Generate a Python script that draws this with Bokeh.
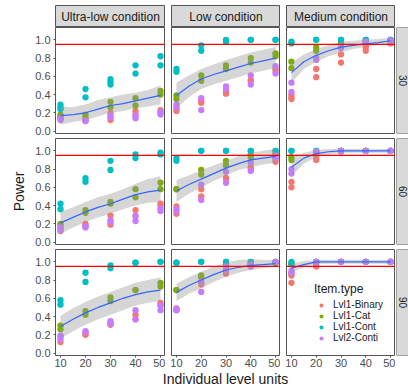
import math
from bokeh.plotting import figure
from bokeh.models import (Range1d, FixedTicker, PrintfTickFormatter, Label, Span,
                          Legend, LegendItem, Spacer)
from bokeh.layouts import row, column
from bokeh.embed import file_html
from bokeh.resources import INLINE

FONT = "Liberation Sans"
BORDER = "#555555"
STRIP_FILL = "#D9D9D9"

# ---------------- data ----------------
item_types = ["Lvl1-Binary", "Lvl1-Cat", "Lvl1-Cont", "Lvl2-Conti"]
type_colors = ["#F8766D", "#7CAE00", "#00BFC4", "#C77CFF"]
x_units = [10, 20, 30, 40, 50]
x_ticks = [10, 20, 30, 40, 50]
y_ticks = [0.0, 0.2, 0.4, 0.6, 0.8, 1.0]
conditions = ["Ultra-low condition", "Low condition", "Medium condition"]
group_sizes = ["30", "60", "90"]
target_power = 0.95
smooth_x = [10, 15, 20, 25, 30, 35, 40, 45, 50]

# points: per item type, one list of power values for each x in x_units
UL30 = {"Lvl1-Binary": [[0.15, 0.13], [0.12, 0.11], [0.20, 0.12], [0.22, 0.18], [0.23, 0.20]],
        "Lvl1-Cat":    [[0.18, 0.16], [0.18, 0.15], [0.32, 0.26], [0.36, 0.28], [0.44, 0.40]],
        "Lvl1-Cont":   [[0.29, 0.26, 0.24], [0.46, 0.37], [0.57, 0.54, 0.51], [0.72, 0.63], [0.82, 0.72]],
        "Lvl2-Conti":  [[0.14, 0.12], [0.12, 0.11], [0.17, 0.15], [0.17, 0.14], [0.21, 0.18]]}
L30 = {"Lvl1-Binary": [[0.22, 0.24], [0.33, 0.31], [0.43, 0.41], [0.56, 0.55], [0.68, 0.66]],
       "Lvl1-Cat":    [[0.39, 0.35], [0.61, 0.55], [0.72, 0.68], [0.80, 0.75], [0.85, 0.82]],
       "Lvl1-Cont":   [[0.68, 0.65], [0.94, 0.88], [1.00, 0.98], [1.00, 1.00], [1.00, 1.00]],
       "Lvl2-Conti":  [[0.29, 0.26], [0.36, 0.23], [0.49, 0.46], [0.61, 0.51], [0.71, 0.63]]}
M30 = {"Lvl1-Binary": [[0.40, 0.37, 0.35], [0.68, 0.59], [0.84, 0.75], [0.94, 0.92, 0.88], [0.97, 0.96]],
       "Lvl1-Cat":    [[0.76, 0.69], [0.92, 0.88], [0.97, 0.96], [0.99, 0.98], [1.00, 0.99]],
       "Lvl1-Cont":   [[0.98, 0.96], [1.00, 1.00], [1.00, 1.00], [1.00, 1.00], [1.00, 1.00]],
       "Lvl2-Conti":  [[0.53, 0.43], [0.80, 0.78], [0.93, 0.91], [0.98, 0.97], [0.99, 0.99]]}
UL60 = {"Lvl1-Binary": [[0.12, 0.15], [0.20, 0.18], [0.29, 0.19], [0.35, 0.28], [0.42, 0.40]],
        "Lvl1-Cat":    [[0.20, 0.19], [0.35, 0.32], [0.44, 0.42], [0.58, 0.49], [0.65, 0.58]],
        "Lvl1-Cont":   [[0.42, 0.36], [0.70, 0.66], [0.89, 0.79], [0.96, 0.92], [0.98, 0.96]],
        "Lvl2-Conti":  [[0.16, 0.13], [0.17, 0.16], [0.24, 0.22], [0.29, 0.23], [0.37, 0.34]]}
L60 = {"Lvl1-Binary": [[0.39, 0.31], [0.58, 0.50], [0.70, 0.70], [0.82, 0.80], [0.91, 0.88]],
       "Lvl1-Cat":    [[0.58, 0.58], [0.79, 0.74], [0.89, 0.84], [0.96, 0.93], [0.97, 0.96]],
       "Lvl1-Cont":   [[0.92, 0.89], [1.00, 1.00], [1.00, 1.00], [1.00, 1.00], [1.00, 1.00]],
       "Lvl2-Conti":  [[0.36, 0.34], [0.63, 0.46], [0.77, 0.65], [0.87, 0.78], [0.95, 0.92]]}
M60 = {"Lvl1-Binary": [[0.66, 0.60], [0.93, 0.90], [1.00, 0.99], [1.00, 1.00], [1.00, 1.00]],
       "Lvl1-Cat":    [[0.93, 0.90], [0.99, 0.97], [1.00, 1.00], [1.00, 1.00], [1.00, 1.00]],
       "Lvl1-Cont":   [[1.00, 1.00], [1.00, 1.00], [1.00, 1.00], [1.00, 1.00], [1.00, 1.00]],
       "Lvl2-Conti":  [[0.80, 0.75], [0.99, 0.97], [1.00, 1.00], [1.00, 1.00], [1.00, 1.00]]}
UL90 = {"Lvl1-Binary": [[0.18, 0.12], [0.21, 0.20], [0.33, 0.31], [0.42, 0.37], [0.55, 0.52]],
        "Lvl1-Cat":    [[0.30, 0.26], [0.46, 0.42], [0.61, 0.57], [0.69, 0.69], [0.77, 0.73]],
        "Lvl1-Cont":   [[0.58, 0.53], [0.88, 0.78], [0.96, 0.93], [0.99, 0.99], [1.00, 1.00]],
        "Lvl2-Conti":  [[0.19, 0.15], [0.24, 0.23], [0.35, 0.32], [0.47, 0.37], [0.52, 0.47]]}
L90 = {"Lvl1-Binary": [[0.49, 0.47], [0.78, 0.75], [0.87, 0.91], [0.96, 0.95], [0.99, 0.99]],
       "Lvl1-Cat":    [[0.69, 0.69], [0.85, 0.83], [0.98, 0.97], [0.98, 0.97], [1.00, 0.99]],
       "Lvl1-Cont":   [[0.99, 0.99], [1.00, 1.00], [1.00, 1.00], [1.00, 1.00], [1.00, 1.00]],
       "Lvl2-Conti":  [[0.48, 0.47], [0.78, 0.67], [0.95, 0.91], [0.97, 0.95], [1.00, 1.00]]}
M90 = {"Lvl1-Binary": [[0.87, 0.85, 0.77], [0.96, 0.95], [1.00, 1.00], [1.00, 1.00], [1.00, 1.00]],
       "Lvl1-Cat":    [[0.98, 0.97], [1.00, 1.00], [1.00, 1.00], [1.00, 1.00], [1.00, 1.00]],
       "Lvl1-Cont":   [[1.00, 0.98], [1.00, 1.00], [1.00, 1.00], [1.00, 1.00], [1.00, 1.00]],
       "Lvl2-Conti":  [[0.90, 0.88], [1.00, 1.00], [1.00, 1.00], [1.00, 1.00], [1.00, 1.00]]}

# loess fit with confidence band, at smooth_x
UL30_fit = [0.17, 0.18, 0.20, 0.24, 0.28, 0.30, 0.33, 0.36, 0.39]
UL30_lo  = [0.07, 0.10, 0.12, 0.16, 0.20, 0.22, 0.25, 0.27, 0.29]
UL30_hi  = [0.27, 0.26, 0.29, 0.34, 0.37, 0.40, 0.42, 0.45, 0.50]
L30_fit  = [0.39, 0.49, 0.57, 0.62, 0.66, 0.70, 0.74, 0.77, 0.80]
L30_lo   = [0.25, 0.37, 0.46, 0.51, 0.55, 0.59, 0.63, 0.66, 0.69]
L30_hi   = [0.53, 0.61, 0.68, 0.73, 0.78, 0.82, 0.86, 0.89, 0.92]
M30_fit  = [0.64, 0.76, 0.83, 0.88, 0.92, 0.94, 0.955, 0.97, 0.99]
M30_lo   = [0.53, 0.68, 0.76, 0.82, 0.86, 0.90, 0.92, 0.94, 0.96]
M30_hi   = [0.75, 0.84, 0.90, 0.94, 0.98, 0.99, 1.00, 1.01, 1.02]
UL60_fit = [0.21, 0.27, 0.33, 0.38, 0.42, 0.47, 0.52, 0.55, 0.57]
UL60_lo  = [0.09, 0.16, 0.22, 0.27, 0.31, 0.36, 0.40, 0.43, 0.44]
UL60_hi  = [0.33, 0.38, 0.44, 0.49, 0.53, 0.58, 0.64, 0.69, 0.72]
L60_fit  = [0.56, 0.63, 0.69, 0.75, 0.81, 0.86, 0.90, 0.92, 0.94]
L60_lo   = [0.44, 0.53, 0.60, 0.67, 0.73, 0.79, 0.82, 0.85, 0.87]
L60_hi   = [0.68, 0.73, 0.79, 0.84, 0.89, 0.94, 0.98, 1.00, 1.02]
M60_fit  = [0.82, 0.92, 0.97, 0.99, 1.00, 1.00, 1.00, 1.00, 1.00]
M60_lo   = [0.72, 0.86, 0.93, 0.96, 0.975, 0.98, 0.98, 0.98, 0.98]
M60_hi   = [0.92, 0.98, 1.01, 1.02, 1.02, 1.02, 1.02, 1.02, 1.02]
UL90_fit = [0.29, 0.37, 0.44, 0.50, 0.55, 0.60, 0.64, 0.67, 0.69]
UL90_lo  = [0.16, 0.24, 0.31, 0.37, 0.42, 0.47, 0.52, 0.55, 0.57]
UL90_hi  = [0.41, 0.49, 0.56, 0.62, 0.67, 0.72, 0.77, 0.80, 0.83]
L90_fit  = [0.665, 0.74, 0.80, 0.86, 0.91, 0.94, 0.96, 0.97, 0.98]
L90_lo   = [0.57, 0.65, 0.71, 0.78, 0.84, 0.88, 0.91, 0.93, 0.95]
L90_hi   = [0.76, 0.83, 0.89, 0.95, 0.99, 1.02, 1.03, 1.02, 1.02]
M90_fit  = [0.93, 0.97, 1.00, 1.00, 1.00, 1.00, 1.00, 1.00, 1.00]
M90_lo   = [0.88, 0.94, 0.975, 0.98, 0.98, 0.98, 0.98, 0.98, 0.98]
M90_hi   = [0.98, 1.01, 1.02, 1.02, 1.02, 1.02, 1.02, 1.02, 1.02]

POINTS = [[UL30, L30, M30], [UL60, L60, M60], [UL90, L90, M90]]
SMOOTH = [[(UL30_fit, UL30_lo, UL30_hi), (L30_fit, L30_lo, L30_hi), (M30_fit, M30_lo, M30_hi)],
          [(UL60_fit, UL60_lo, UL60_hi), (L60_fit, L60_lo, L60_hi), (M60_fit, M60_lo, M60_hi)],
          [(UL90_fit, UL90_lo, UL90_hi), (L90_fit, L90_lo, L90_hi), (M90_fit, M90_lo, M90_hi)]]

# ---------------- layout ----------------
FRAME_W = [110, 109, 109]
FRAME_H = 106
COL_LEFT = [55, 6, 6]
ROW_BOTTOM = [5, 5, 17]
STRIP_TOP, STRIP_H = 5, 22
RSTRIP_W = 13
TITLE_H = 16
TOTAL_W = sum(FRAME_W) + sum(COL_LEFT) + RSTRIP_W


def clean(p):
    p.grid.visible = False
    p.background_fill_color = "white"
    p.border_fill_color = "white"


def make_panel(r, c):
    pts = POINTS[r][c]
    fit, lo, hi = SMOOTH[r][c]
    left, bottom = COL_LEFT[c], ROW_BOTTOM[r]
    p = figure(width=left + FRAME_W[c], height=FRAME_H + bottom,
               x_range=Range1d(8, 52), y_range=Range1d(-0.027, 1.135),
               output_backend="svg", toolbar_location=None,
               min_border_left=left, min_border_right=0, min_border_top=0,
               min_border_bottom=bottom,
               x_axis_location="below" if r == 2 else None,
               y_axis_location="left" if c == 0 else None)
    clean(p)
    p.outline_line_color = BORDER
    p.outline_line_width = 1

    rends = []
    for name, color in zip(item_types, type_colors):
        xs, ys = [], []
        for xv, vals in zip(x_units, pts[name]):
            for v in vals:
                xs.append(xv)
                ys.append(v)
        rends.append(p.scatter(xs, ys, size=6.3, fill_color=color, line_color=None))
    p.varea(x=smooth_x, y1=lo, y2=hi, fill_color="#999999", fill_alpha=0.4)
    p.line(smooth_x, fit, line_color="#3366FF", line_width=1.2)
    p.add_layout(Span(location=target_power, dimension="width",
                      line_color="#FF0000", line_width=1.3))

    for ax in p.axis:
        ax.axis_line_color = None
        ax.major_tick_in = 0
        ax.major_tick_out = 2
        ax.major_tick_line_color = BORDER
        ax.minor_tick_line_color = None
        ax.major_label_text_font = FONT
        ax.major_label_text_font_size = "11px"
        ax.major_label_text_color = "#4D4D4D"
        ax.axis_label_text_font = FONT
        ax.axis_label_text_font_size = "14px"
        ax.axis_label_text_font_style = "normal"
        ax.axis_label_text_color = "#1A1A1A"
    for ax in p.xaxis:
        ax.ticker = FixedTicker(ticks=x_ticks)
        ax.major_label_standoff = 1
    for ax in p.yaxis:
        ax.ticker = FixedTicker(ticks=y_ticks)
        ax.formatter = PrintfTickFormatter(format="%.1f")
        ax.major_label_standoff = 3
        ax.axis_label_standoff = 5
    if r == 1 and c == 0:
        p.yaxis.axis_label = "Power"
    if r == 2 and c == 2:
        legend = Legend(items=[LegendItem(label=n, renderers=[rr]) for n, rr in zip(item_types, rends)],
                        location=(28, 12), title="Item.type",
                        title_text_font=FONT, title_text_font_size="12px",
                        title_text_font_style="normal", title_text_color="#1A1A1A",
                        title_standoff=3,
                        label_text_font=FONT, label_text_font_size="10px",
                        label_text_color="#1A1A1A", label_text_line_height=1.0,
                        glyph_width=14, glyph_height=10, label_height=10,
                        label_standoff=5, spacing=0, padding=0, margin=0,
                        border_line_color=None, background_fill_color="white",
                        background_fill_alpha=1)
        p.add_layout(legend)
    return p


def make_top_strip(c):
    left = COL_LEFT[c]
    p = figure(width=left + FRAME_W[c], height=STRIP_TOP + STRIP_H,
               x_range=Range1d(0, 1), y_range=Range1d(0, 1),
               output_backend="svg", toolbar_location=None,
               min_border_left=left, min_border_right=0, min_border_top=STRIP_TOP,
               min_border_bottom=0, x_axis_location=None, y_axis_location=None)
    clean(p)
    p.background_fill_color = STRIP_FILL
    p.outline_line_color = BORDER
    p.add_layout(Label(x=0.5, y=0.5, text=conditions[c], text_align="center",
                       text_baseline="middle", text_font=FONT, text_font_size="12px",
                       text_color="#1A1A1A"))
    return p


def make_right_strip(r):
    bottom = ROW_BOTTOM[r]
    p = figure(width=RSTRIP_W, height=FRAME_H + bottom, x_range=Range1d(0, 1), y_range=Range1d(0, 1),
               output_backend="svg", toolbar_location=None,
               min_border_left=1, min_border_right=0, min_border_top=0, min_border_bottom=bottom,
               x_axis_location=None, y_axis_location=None)
    clean(p)
    p.background_fill_color = STRIP_FILL
    p.outline_line_color = None
    for loc, dim in [(0, "height"), (0, "width"), (1, "width")]:
        p.add_layout(Span(location=loc, dimension=dim, line_color=BORDER, line_width=1))
    p.add_layout(Label(x=0.5, y=0.5, text=group_sizes[r], angle=-math.pi / 2,
                       text_align="center", text_baseline="middle", text_font=FONT,
                       text_font_size="10px", text_color="#1A1A1A"))
    return p


def make_x_title():
    p = figure(width=TOTAL_W, height=TITLE_H, x_range=Range1d(0, TOTAL_W), y_range=Range1d(0, 1),
               output_backend="svg", toolbar_location=None,
               min_border_left=0, min_border_right=0, min_border_top=0, min_border_bottom=0,
               x_axis_location=None, y_axis_location=None)
    clean(p)
    p.outline_line_color = None
    panels_left = COL_LEFT[0]
    panels_right = sum(FRAME_W) + sum(COL_LEFT)
    p.add_layout(Label(x=(panels_left + panels_right) / 2, y=0.62, text="Individual level units",
                       text_align="center", text_baseline="middle", text_font=FONT,
                       text_font_size="14px", text_color="#1A1A1A"))
    return p


top = row(make_top_strip(0), make_top_strip(1), make_top_strip(2),
          Spacer(width=RSTRIP_W, height=STRIP_TOP + STRIP_H))
rows = [row(make_panel(r, 0), make_panel(r, 1), make_panel(r, 2), make_right_strip(r))
        for r in range(3)]
layout = column(top, *rows, make_x_title())

open("out.html", "w").write(file_html(layout, INLINE))
